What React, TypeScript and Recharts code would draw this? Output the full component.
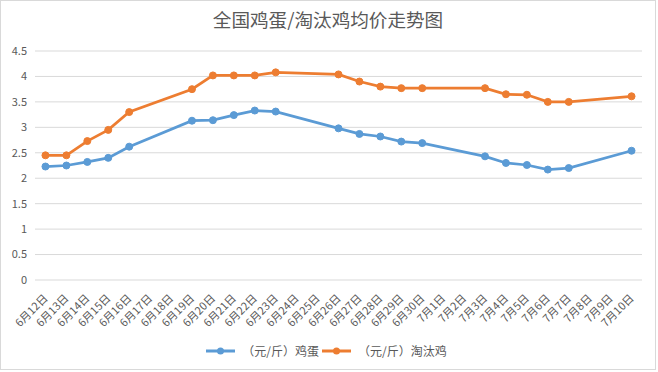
import { LineChart, Line, XAxis, YAxis, CartesianGrid } from 'recharts'

const dates = [
  '6月12日', '6月13日', '6月14日', '6月15日', '6月16日', '6月17日', '6月18日', '6月19日',
  '6月20日', '6月21日', '6月22日', '6月23日', '6月24日', '6月25日', '6月26日', '6月27日',
  '6月28日', '6月29日', '6月30日', '7月1日', '7月2日', '7月3日', '7月4日', '7月5日',
  '7月6日', '7月7日', '7月8日', '7月9日', '7月10日',
]

// egg price (元/斤), null = no quote that day
const eggPrice = [
  2.23, 2.25, 2.32, 2.4, 2.62, null, null, 3.13, 3.14, 3.24, 3.33, 3.31, null, null,
  2.98, 2.87, 2.82, 2.72, 2.69, null, null, 2.43, 2.3, 2.26, 2.17, 2.2, null, null, 2.54,
]

// culled hen price (元/斤)
const henPrice = [
  2.45, 2.45, 2.73, 2.95, 3.3, null, null, 3.75, 4.02, 4.02, 4.02, 4.08, null, null,
  4.04, 3.9, 3.8, 3.77, 3.77, null, null, 3.77, 3.65, 3.64, 3.5, 3.5, null, null, 3.61,
]

const yTicks = [0, 0.5, 1, 1.5, 2, 2.5, 3, 3.5, 4, 4.5]

const data = dates.map((d, i) => ({ idx: i, date: d, egg: eggPrice[i], hen: henPrice[i] }))
const labelTicks = dates.map((_, i) => i)
const boundaryTicks = [...dates.map((_, i) => i - 0.5), dates.length - 0.5]

const BLUE = '#5B9BD5'
const ORANGE = '#ED7D31'
const TEXT = '#595959'
const GRID = '#d9d9d9'
const FONT = '"Noto Sans CJK SC", "Noto Sans", sans-serif'

function DateTick({ x, y, payload }: any) {
  return (
    <g transform={`translate(${x + 3},${y + 19})`}>
      <text x={0} y={0} textAnchor="end" transform="rotate(-45)" fill={TEXT} fontSize={11} fontFamily={FONT}>
        {dates[payload.value]}
      </text>
    </g>
  )
}

function LegendItem({ color, label }: { color: string; label: string }) {
  return (
    <div style={{ display: 'flex', alignItems: 'center' }}>
      <svg width={30} height={10}>
        <line x1={0} y1={5} x2={29} y2={5} stroke={color} strokeWidth={3} />
        <circle cx={14.5} cy={5} r={3.5} fill={color} />
      </svg>
      <span style={{ marginLeft: 6, marginRight: 3, fontSize: 12, color: TEXT }}>{label}</span>
    </div>
  )
}

export default function App() {
  return (
    <div
      style={{
        position: 'absolute',
        top: 0,
        left: 0,
        width: 654,
        height: 368,
        border: `1px solid ${GRID}`,
        background: '#fff',
        fontFamily: FONT,
      }}
    >
      <div
        style={{
          position: 'absolute',
          top: 6,
          left: 0,
          width: 654,
          textAlign: 'center',
          fontSize: 18.6,
          lineHeight: '24px',
          color: TEXT,
        }}
      >
        全国鸡蛋/淘汰鸡均价走势图
      </div>
      <LineChart width={654} height={368} data={data} margin={{ top: 50, right: 13, bottom: 39, left: 0 }}>
        <CartesianGrid vertical={false} stroke={GRID} />
        <XAxis
          xAxisId={0}
          dataKey="idx"
          type="number"
          domain={[-0.5, dates.length - 0.5]}
          ticks={boundaryTicks}
          interval={0}
          tick={false}
          tickSize={5}
          height={0}
          stroke={GRID}
          axisLine={{ stroke: GRID }}
          tickLine={{ stroke: GRID }}
        />
        <XAxis
          xAxisId={1}
          dataKey="idx"
          type="number"
          domain={[-0.5, dates.length - 0.5]}
          ticks={labelTicks}
          interval={0}
          tick={<DateTick />}
          tickSize={0}
          tickMargin={0}
          height={50}
          axisLine={false}
          tickLine={false}
        />
        <YAxis
          domain={[0, 4.5]}
          ticks={yTicks}
          width={34}
          axisLine={false}
          tickLine={false}
          tick={{ fill: TEXT, fontSize: 11, fontFamily: FONT }}
        />
        <Line
          xAxisId={0}
          dataKey="egg"
          stroke={BLUE}
          strokeWidth={2.75}
          dot={{ r: 3.5, fill: BLUE, stroke: BLUE, strokeWidth: 1 }}
          connectNulls
          isAnimationActive={false}
        />
        <Line
          xAxisId={0}
          dataKey="hen"
          stroke={ORANGE}
          strokeWidth={2.75}
          dot={{ r: 3.5, fill: ORANGE, stroke: ORANGE, strokeWidth: 1 }}
          connectNulls
          isAnimationActive={false}
        />
      </LineChart>
      <div
        style={{
          position: 'absolute',
          top: 341,
          left: 0,
          width: 654,
          display: 'flex',
          justifyContent: 'center',
          lineHeight: '18px',
        }}
      >
        <LegendItem color={BLUE} label="（元/斤）鸡蛋" />
        <LegendItem color={ORANGE} label="（元/斤）淘汰鸡" />
      </div>
    </div>
  )
}
